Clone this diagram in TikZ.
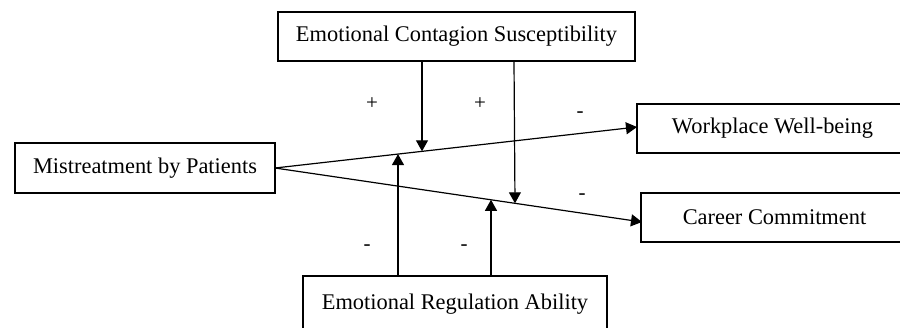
\documentclass[tikz,border=0pt]{standalone}
\usepackage{fontspec}
\setmainfont{Liberation Serif}
\usetikzlibrary{arrows.meta}
\tikzset{
  box/.style={draw, line width=1.4pt, inner sep=0pt, font=\fontsize{22.4}{26}\selectfont},
  conn/.style={line width=1.2pt, -{Triangle[length=11pt,width=12pt]}},
  sign/.style={anchor=base, inner sep=0pt, font=\fontsize{21}{24}\selectfont}
}
\begin{document}
\begin{tikzpicture}[x=1pt,y=-1pt]
\useasboundingbox (0,0) rectangle (900,327);
\clip (0,0) rectangle (900,327);
\fill[white] (0,0) rectangle (900,327);
% boxes
\node[box, minimum width=357pt, minimum height=49pt] (ecs) at (456.5,36.5) {Emotional Contagion Susceptibility};
\node[box, minimum width=260pt, minimum height=50pt] (mis) at (145,168) {Mistreatment by Patients};
\node[box, minimum width=271pt, minimum height=49pt] (wp) at (772.5,128.5) {Workplace Well-being};
\node[box, minimum width=267pt, minimum height=49pt] (cc) at (774.5,217.5) {Career Commitment};
\node[box, minimum width=304pt, minimum height=56pt] (era) at (455,304) {Emotional Regulation Ability};
% end points on the main paths
\coordinate (wpin) at (637,127);
\coordinate (ccin) at (642,222);
\coordinate (mout) at (275,168);
\coordinate (t1) at (422,151.3);
\coordinate (t2) at (515,203.3);
\coordinate (b1) at (398,154.1);
\coordinate (b2) at (491,199.8);
\coordinate (t1s) at (422,61);
\coordinate (t2s) at (514,61);
\coordinate (b1s) at (398,276);
\coordinate (b2s) at (491,276);
% main connectors
\draw[conn] (mout) -- (wpin);
\draw[conn] (mout) -- (ccin);
% moderator connectors
\draw[conn] (t1s) -- (t1);
\draw[conn] (t2s) -- (t2);
\draw[conn] (b1s) -- (b1);
\draw[conn] (b2s) -- (b2);
% signs
\node[sign] (s1) at (372,109.5) {+};
\node[sign] (s2) at (480,109.5) {+};
\node[sign] (s3) at (580,117.5) {-};
\node[sign] (s4) at (582,199) {-};
\node[sign] (s5) at (367,250.5) {-};
\node[sign] (s6) at (464,250.5) {-};
\end{tikzpicture}
\end{document}
